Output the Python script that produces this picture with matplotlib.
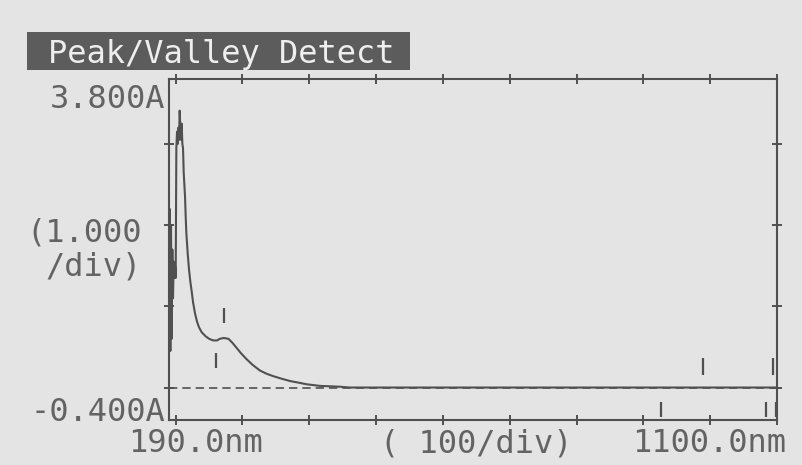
import matplotlib.pyplot as plt
from matplotlib.patches import Rectangle

# spectrum (nm, Abs)
wavelength = [190, 191, 192, 193, 194, 195, 196, 197, 198, 199, 200,
              201, 202, 203, 204, 205, 206, 207, 208, 209, 210, 211, 212,
              213, 214, 215, 216, 218, 220, 222, 224, 226, 229, 232, 235,
              239, 245, 250, 256, 262, 266, 272, 279, 285, 291, 298, 306,
              315, 326, 336, 346, 358, 371, 384, 396, 406, 416, 430, 446,
              460, 1100]
absorbance = [0.50, 2.20, 0.45, 2.00, 0.60, 1.70, 1.10, 1.55, 1.35, 1.50, 1.35,
              2.95, 3.15, 3.00, 3.20, 3.05, 3.41, 3.20, 3.05, 3.25, 3.00, 2.95, 2.65,
              2.50, 2.35, 2.10, 1.90, 1.65, 1.45, 1.30, 1.18, 1.05, 0.91, 0.81, 0.74,
              0.68, 0.63, 0.60, 0.58, 0.58, 0.60, 0.61, 0.60, 0.55, 0.49, 0.42, 0.35,
              0.28, 0.21, 0.17, 0.14, 0.11, 0.08, 0.06, 0.04, 0.03, 0.02, 0.015, 0.01,
              0.0, 0.0]

# peak / valley detect marks
peak_nm = [272, 989, 1094]
peak_lo = [0.79, 0.15, 0.15]
peak_hi = [0.98, 0.36, 0.36]
valley_nm = [261, 927, 1083, 1098]
valley_lo = [0.24, -0.36, -0.36, -0.36]
valley_hi = [0.43, -0.18, -0.18, -0.18]

x_ticks = list(range(200, 1101, 100))
y_ticks = [0, 1, 2, 3]

W, H = 802, 465
bg = '#e4e4e4'
ink = '#505050'
txt = '#636363'
mono = 'DejaVu Sans Mono'
fs = 23


def fx(x):
    return x / W


def fy(y):
    return 1 - y / H


fig = plt.figure(figsize=(W / 100, H / 100), dpi=100, facecolor=bg)
ax = fig.add_axes([fx(169), fy(420), fx(777) - fx(169), fy(79) - fy(420)])
ax.set_facecolor(bg)

ax.axhline(0, color=ink, lw=1.2, linestyle=(0, (5, 3)), zorder=1)
ax.plot(wavelength, absorbance, color=ink, lw=1.5, zorder=2)
ax.vlines(peak_nm, peak_lo, peak_hi, color=ink, lw=1.6)
ax.vlines(valley_nm, valley_lo, valley_hi, color=ink, lw=1.6)

ax.set_xlim(190, 1100)
ax.set_ylim(-0.4, 3.8)
ax.set_xticks(x_ticks)
ax.set_yticks(y_ticks)
ax.tick_params(direction='inout', length=7, width=1.4, color=ink,
               top=True, right=True, labelbottom=False, labelleft=False)
for s in ax.spines.values():
    s.set_color(ink)
    s.set_linewidth(1.5)

# title box
fig.add_artist(Rectangle((fx(27), fy(70)), fx(410) - fx(27), fy(32) - fy(70),
                         transform=fig.transFigure, facecolor='#5c5c5c',
                         edgecolor='none'))
fig.text(fx(48), fy(63), 'Peak/Valley Detect', color='#eeeeee',
         family=mono, fontsize=fs, va='baseline', ha='left')

# axis labels as on the instrument screen
fig.text(fx(165), fy(108), '3.800A', color=txt, family=mono, fontsize=fs,
         ha='right', va='baseline')
fig.text(fx(142), fy(241), '(1.000', color=txt, family=mono, fontsize=fs,
         ha='right', va='baseline')
fig.text(fx(142), fy(275), '/div)', color=txt, family=mono, fontsize=fs,
         ha='right', va='baseline')
fig.text(fx(165), fy(421), '-0.400A', color=txt, family=mono, fontsize=fs,
         ha='right', va='baseline')
fig.text(fx(128), fy(452), '190.0nm', color=txt, family=mono, fontsize=fs,
         ha='left', va='baseline')
fig.text(fx(380), fy(452), '( 100/div)', color=txt, family=mono, fontsize=fs,
         ha='left', va='baseline')
fig.text(fx(786), fy(452), '1100.0nm', color=txt, family=mono, fontsize=fs,
         ha='right', va='baseline')

fig.savefig('out.png', dpi=100, facecolor=bg)
